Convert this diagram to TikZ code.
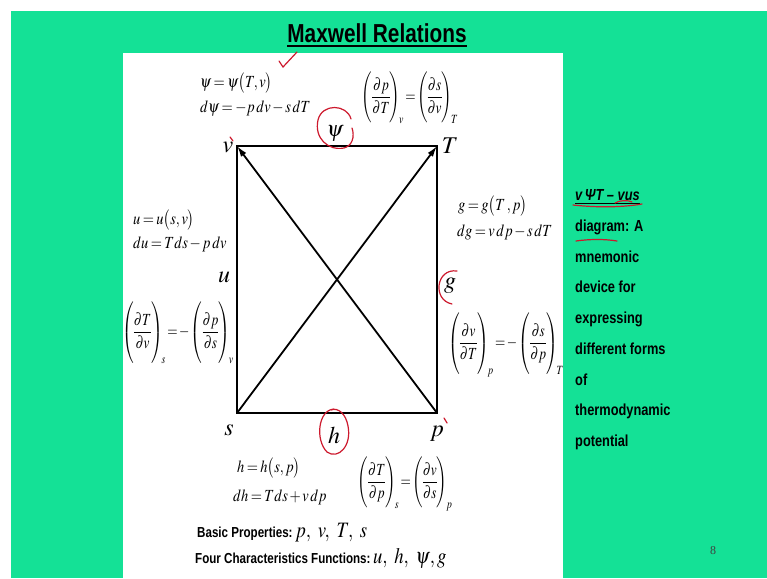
\documentclass[tikz,border=0pt]{standalone}
\usepackage{mathptmx}
\usepackage[no-math]{fontspec}
\setmainfont{Liberation Serif}
\newfontfamily\narrow[FakeStretch=0.8]{Liberation Sans}
\usetikzlibrary{arrows.meta,calc}
\definecolor{bg}{RGB}{20,225,150}
\definecolor{pen}{RGB}{205,25,45}
\newcommand\myfs[1]{\fontsize{#1}{#1}\selectfont}
\newcommand\sqz[1]{\scalebox{0.85}[1]{\thickmuskip=3mu\medmuskip=2mu #1}}
\newcommand\sqf[1]{\scalebox{0.78}[1]{\thickmuskip=2mu\medmuskip=1mu\nulldelimiterspace=0pt #1}}
\newcommand\tall[2]{\rule[-#1]{0pt}{#2}}
\begin{document}
\begin{tikzpicture}[x=1pt,y=-1pt,
  corner/.style={inner sep=0pt,anchor=base,font=\myfs{24}},
  eqn/.style={inner sep=0pt,anchor=base west,font=\myfs{17}},
  fracn/.style={inner sep=0pt,font=\myfs{17}},
  side/.style={inner sep=0pt,anchor=base west,font=\narrow\bfseries\myfs{16}},
  bottomlbl/.style={inner sep=0pt,anchor=base west,font=\narrow\bfseries\myfs{14.5}},
  edge/.style={line width=2.2pt,line join=miter},
  diag/.style={line width=1.8pt,-{Latex[length=11pt,width=6.5pt]}},
  redpen/.style={pen,line width=1.2pt,line cap=round}]
\useasboundingbox (0,0) rectangle (767,578);
\fill[white] (0,0) rectangle (767,578);
\fill[bg] (11,11) rectangle (767,578);
\fill[white] (123,53) rectangle (563,578);
% title
\node[inner sep=0pt,anchor=base,font=\narrow\bfseries\myfs{26}] (title) at (377,42) {Maxwell Relations};
\draw[line width=1.6pt] ($(title.base west)+(0,4)$) -- ($(title.base east)+(0,4)$);
% square
\coordinate (V) at (237,146);
\coordinate (T) at (437,146);
\coordinate (S) at (237,413);
\coordinate (P) at (437,413);
\draw[edge] (V) -- (T) -- (P) -- (S) -- cycle;
\draw[diag] (S) -- (T);
\draw[diag] (P) -- (V);
% corner labels
\node[corner] (lv) at (228,152) {$v$};
\node[corner] (lT) at (450,153) {$T$};
\node[corner] (ls) at (229,435) {$s$};
\node[corner] (lp) at (437,436) {$p$};
\node[corner,font=\myfs{22}] (lpsi) at (335,136) {$\psi$};
\node[corner] (lh) at (334,443) {$h$};
\node[corner] (lu) at (224,282) {$u$};
\node[corner] (lg) at (450,288) {$g$};
% equations
\node[eqn] (e1) at (200,87) {\sqz{$\psi=\psi\bigl(T,v\bigr)$}};
\node[eqn] (e2) at (200,112) {\sqz{$d\psi=-p\,dv-s\,dT$}};
\node[eqn] (e3) at (133,224) {\sqz{$u=u\bigl(s,v\bigr)$}};
\node[eqn] (e4) at (133,248) {\sqz{$du=T ds-p\,dv$}};
\node[eqn] (e5) at (458,210) {\sqz{$g=g\bigl(T\,,p\bigr)$}};
\node[eqn] (e6) at (457,236) {\sqz{$dg=v\,dp-s\,dT$}};
\node[eqn] (e7) at (237,472) {\sqz{$h=h\bigl(s,p\bigr)$}};
\node[eqn] (e8) at (233,501) {\sqz{$dh=T ds+v\,dp$}};
% Maxwell relations
\node[fracn] (m1) at (410,98) {\sqf{$\displaystyle\left(\frac{\partial p}{\partial T}\tall{20pt}{48pt}\right)_{\!v}=\left(\frac{\partial s}{\partial v}\tall{20pt}{48pt}\right)_{\!T}$}};
\node[fracn] (m2) at (178,333) {\sqf{$\displaystyle\left(\frac{\partial T}{\partial v}\tall{25pt}{58pt}\right)_{\!s}=-\left(\frac{\partial p}{\partial s}\tall{25pt}{58pt}\right)_{\!v}$}};
\node[fracn] (m3) at (506,345) {\sqf{$\displaystyle\left(\frac{\partial v}{\partial T}\tall{26pt}{60pt}\right)_{\!p}=-\left(\frac{\partial s}{\partial p}\tall{26pt}{60pt}\right)_{\!T}$}};
\node[fracn] (m4) at (405,484) {\sqf{$\displaystyle\left(\frac{\partial T}{\partial p}\tall{21pt}{51pt}\right)_{\!s}=\left(\frac{\partial v}{\partial s}\tall{21pt}{51pt}\right)_{\!p}$}};
% bottom lines
\node[bottomlbl] (b1) at (197,537) {Basic Properties:};
\node[inner sep=0pt,anchor=base west,font=\myfs{22}] (b1m) at (b1.base east) {\sqz{$\,p,\ v,\ T,\ s$}};
\node[bottomlbl] (b2) at (195,563) {Four Characteristics Functions:};
\node[inner sep=0pt,anchor=base west,font=\myfs{22}] (b2m) at (b2.base east) {\sqz{$\,u,\ h,\ \psi,g$}};
% side text
\node[side,font=\narrow\bfseries\itshape\myfs{16}] (t0) at (575,200) {v\,ΨT – vus};
\node[side] (t1) at (575,231) {diagram: A};
\node[side] (t2) at (575,262) {mnemonic};
\node[side] (t3) at (575,292) {device for};
\node[side] (t4) at (575,323) {expressing};
\node[side] (t5) at (575,354) {different forms};
\node[side] (t6) at (575,385) {of};
\node[side] (t7) at (575,415) {thermodynamic};
\node[side] (t8) at (575,446) {potential};
\draw[line width=1pt] ($(t0.base west)+(0,3)$) -- ($(t0.base east)+(0,3)$);
% page number
\node[inner sep=0pt,font=\myfs{12},text=black!75] (pg) at (713,551) {8};
% red pen annotations
\draw[redpen] (279,61) -- (283,67) -- (297,52);
\draw[redpen] (351,119) .. controls (347,104) and (322,103) .. (318,120)
   .. controls (314,138) and (328,151) .. (344,148) .. controls (352,146) and (355,137) .. (352,128);
\draw[redpen] (334,409) .. controls (318,410) and (315,440) .. (327,452)
   .. controls (338,460) and (352,446) .. (348,426) .. controls (346,414) and (338,407) .. (331,410);
\draw[redpen] (457,271) .. controls (436,268) and (432,300) .. (452,304);
\draw[redpen] (230,137) -- (233,141);
\draw[redpen] (444,418) -- (447,423);
\draw[redpen] (573,205) .. controls (600,208) and (625,207) .. (642,204);
\draw[redpen] (615,203) .. controls (620,200) and (628,200) .. (632,202);
\draw[redpen] (576,241) .. controls (590,239) and (605,239) .. (617,241);
\end{tikzpicture}
\end{document}
